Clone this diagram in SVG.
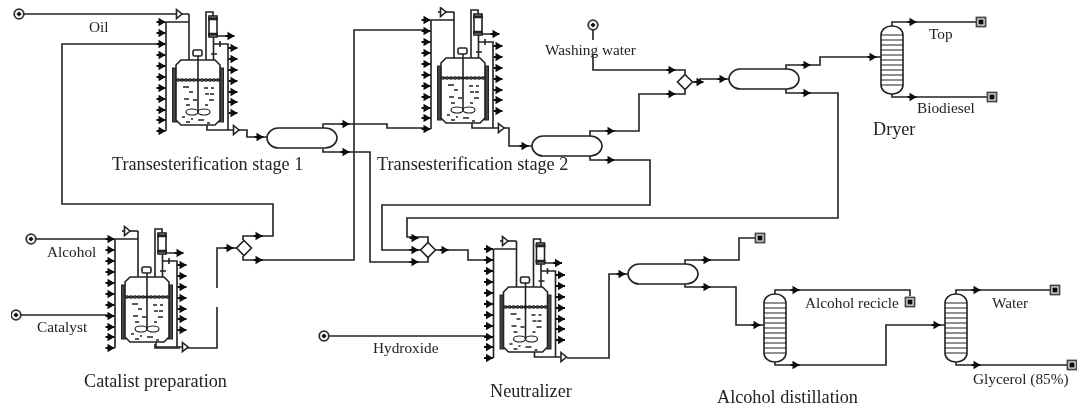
<svg xmlns="http://www.w3.org/2000/svg" width="1077" height="408" viewBox="0 0 1077 408">
<style>
.l{fill:none;stroke:#222;stroke-width:1.6}
.w{fill:#fff;stroke:#222;stroke-width:1.6}
.th{fill:none;stroke:#222;stroke-width:1.2}
.d{fill:none;stroke:#222;stroke-width:1.5}
.k{fill:#111}
text{font-family:"Liberation Serif","Times New Roman",serif;fill:#222;font-size:15.300px}
.t{font-size:18.200px}
</style>
<defs>
<filter id="soft" x="0" y="0" width="100%" height="100%"><feGaussianBlur stdDeviation="0.35"/></filter>
<path id="ar" class="k" d="M-4.500,-1H-2.500V-4.200L3,-1H4.500V1H3L-2.500,4.200V1H-4.500Z"/>
<path id="tri" class="w" d="M-2.500,-4.500L3,0L-2.500,4.500Z"/>
<g id="src"><circle r="4.800" fill="#fff" stroke="#333" stroke-width="1.800"/><path class="k" d="M0,-2.600L2.600,0L0,2.600L-2.600,0Z"/></g>
<g id="snk"><rect x="-4.500" y="-4.500" width="9" height="9" fill="#fff" stroke="#444" stroke-width="1.800"/><rect x="-2.500" y="-2.500" width="5" height="5" class="k"/></g>
<g id="drum"><path class="w" d="M11,0H58C65,0 70,5 70,10C70,15 65,20 58,20H11C5,20 0,15 0,10C0,5 5,0 11,0Z"/></g>
<g id="col"><rect class="w" width="22" height="68" rx="10.500" ry="9"/><path class="th" d="M0,9H22M0,14H22M0,19H22M0,24H22M0,29H22M0,34H22M0,39H22M0,44H22M0,49H22M0,54H22M0,59H22"/></g>
<g id="mix"><path class="w" d="M0,-7.500L7.500,0L0,7.500L-7.500,0Z"/></g>
<g id="rx">
<path class="l" d="M166,22V131M166,22H189M189,14V60M206,60V12H213V17M213.500,36V60M213.500,44H228V130M207,125V130H233M217,36H230M220,41V47M211,54H217"/>
<rect x="172.500" y="68" width="4" height="54" fill="#444" stroke="#222" stroke-width="1"/>
<rect x="219.500" y="68" width="4" height="54" fill="#444" stroke="#222" stroke-width="1"/>
<path class="w" d="M176,65L181,60H215L220,65V120L215,125H181L176,120Z"/>
<rect class="w" x="193" y="50" width="9" height="6" rx="1.500"/>
<path class="l" d="M198,56V112"/>
<path class="th" d="M176,80q2,-2 4,0t4,0t4,0t4,0t4,0t4,0t4,0t4,0t4,0t4,0t4,0M176,80q2,2 4,0t4,0t4,0t4,0t4,0t4,0t4,0t4,0t4,0t4,0t4,0"/>
<path class="d" d="M183,87h6M204,88h4M211,88h3M189,92h4M205,94h4M210,94h4M184,99h5M193,100h4M209,100h5M186,105h4M205,105h3M186,122h4M198,120h6M207,123h3M191,119h2M182,117h3"/>
<ellipse class="th" cx="192" cy="112" rx="6" ry="3"/><ellipse class="th" cx="204" cy="112" rx="6" ry="3"/>
<rect class="w" x="209" y="16" width="8" height="21"/>
<path class="d" d="M208,18H218M208,19.500H218M208,33.500H218M208,35H218"/>
<use href="#ar" x="161" y="22"/><use href="#ar" x="161" y="33"/><use href="#ar" x="161" y="44"/><use href="#ar" x="161" y="55"/><use href="#ar" x="161" y="66"/><use href="#ar" x="161" y="77"/><use href="#ar" x="161" y="88"/><use href="#ar" x="161" y="99"/><use href="#ar" x="161" y="110"/><use href="#ar" x="161" y="120"/><use href="#ar" x="161" y="131"/>
<use href="#ar" x="230" y="36"/>
<use href="#ar" x="233" y="48"/><use href="#ar" x="233" y="59"/><use href="#ar" x="233" y="70"/><use href="#ar" x="233" y="81"/><use href="#ar" x="233" y="92"/><use href="#ar" x="233" y="102"/><use href="#ar" x="233" y="113"/>
<use href="#tri" x="236" y="130"/>
</g>
</defs>
<g filter="url(#soft)">
<g id="connectors">
<path class="l" d="M19,14H178M181,14H189"/>
<path class="l" d="M160,44H62V204H273V236H243V240"/>
<path class="l" d="M243,256V260H354V30H425"/>
<path class="l" d="M217,288V248H236"/>
<path class="l" d="M217,307V348H186M180,348H155V344"/>
<path class="l" d="M31,239H108M16,315H108"/>
<path class="l" d="M239,130H247V137H267"/>
<path class="l" d="M323,128V124H387V128H425"/>
<path class="l" d="M323,149V152H370V262H414L428,262V258"/>
<path class="l" d="M590,156V160H650V205H382V250H420"/>
<path class="l" d="M786,89V93H838V218H407V237H428V242"/>
<path class="l" d="M436,250H468V260H488"/>
<path class="l" d="M504,128H509V146H532"/>
<path class="l" d="M590,136V131H639V94H685V90"/>
<path class="l" d="M593,30V40M593,55V70H685V74"/>
<path class="l" d="M693,82H700V79H729"/>
<path class="l" d="M786,69V65H820V57H881"/>
<path class="l" d="M892,26V22H977M892,93V97H988"/>
<path class="l" d="M324,336H488"/>
<path class="l" d="M567,358H609V274H628"/>
<path class="l" d="M685,264V260H739V238H756"/>
<path class="l" d="M685,284V287H736V325H764"/>
<path class="l" d="M775,294V290H910V296"/>
<path class="l" d="M775,362V365H886V325H945"/>
<path class="l" d="M956,294V290H1051M956,362V365H1068"/>
<use href="#ar" x="258" y="236"/><use href="#ar" x="258" y="260"/><use href="#ar" x="229" y="248"/>
<use href="#ar" x="259" y="137"/><use href="#ar" x="345" y="124"/><use href="#ar" x="345" y="152"/>
<use href="#ar" x="414" y="238"/><use href="#ar" x="414" y="250"/><use href="#ar" x="414" y="262"/>
<use href="#ar" x="444" y="250"/><use href="#ar" x="524" y="146"/>
<use href="#ar" x="610" y="131"/><use href="#ar" x="610" y="160"/>
<use href="#ar" x="671" y="70"/><use href="#ar" x="671" y="94"/><use href="#ar" x="699" y="82"/><use href="#ar" x="722" y="79"/>
<use href="#ar" x="806" y="65"/><use href="#ar" x="806" y="93"/><use href="#ar" x="872" y="57"/>
<use href="#ar" x="912" y="22"/><use href="#ar" x="912" y="97"/>
<use href="#ar" x="621" y="274"/><use href="#ar" x="706" y="260"/><use href="#ar" x="706" y="287"/><use href="#ar" x="756" y="325"/>
<use href="#ar" x="795" y="290"/><use href="#ar" x="795" y="365"/><use href="#ar" x="936" y="325"/>
<use href="#ar" x="976" y="290"/><use href="#ar" x="976" y="365"/>
</g>
<g id="reactor-1"><use href="#rx"/><use href="#tri" x="179" y="14"/></g>
<g id="reactor-2"><use href="#rx" transform="translate(265,-2)"/><path class="l" d="M438,12H454"/><use href="#tri" x="443" y="12"/></g>
<g id="reactor-3"><use href="#rx" transform="translate(-51,217)"/><path class="l" d="M122,231H138"/><use href="#tri" x="127" y="231"/></g>
<g id="reactor-4"><use href="#rx" transform="translate(327.500,227)"/><path class="l" d="M500,241H516.500"/><use href="#tri" x="505" y="241"/></g>
<g id="drum-1"><use href="#drum" x="267" y="128"/></g>
<g id="drum-2"><use href="#drum" x="532" y="136"/></g>
<g id="drum-3"><use href="#drum" x="729" y="69"/></g>
<g id="drum-4"><use href="#drum" x="628" y="264"/></g>
<g id="mixer-1"><use href="#mix" x="244" y="248"/></g>
<g id="mixer-2"><use href="#mix" x="428" y="250"/></g>
<g id="mixer-3"><use href="#mix" x="685" y="82"/></g>
<g id="column-dryer"><use href="#col" x="881" y="26"/></g>
<g id="column-alcohol"><use href="#col" x="764" y="294"/></g>
<g id="column-water"><use href="#col" x="945" y="294"/></g>
<g id="source-oil"><use href="#src" x="19" y="14"/></g>
<g id="source-washing"><use href="#src" x="593" y="25"/></g>
<g id="source-alcohol"><use href="#src" x="31" y="239"/></g>
<g id="source-catalyst"><use href="#src" x="16" y="315"/></g>
<g id="source-hydroxide"><use href="#src" x="324" y="336"/></g>
<g id="sink-top"><use href="#snk" x="981" y="22"/></g>
<g id="sink-biodiesel"><use href="#snk" x="992" y="97"/></g>
<g id="sink-3"><use href="#snk" x="760" y="238"/></g>
<g id="sink-recicle"><use href="#snk" x="910" y="302"/></g>
<g id="sink-water"><use href="#snk" x="1055" y="290"/></g>
<g id="sink-glycerol"><use href="#snk" x="1072" y="365"/></g>
<g id="labels">
<text x="89" y="32">Oil</text>
<text class="t" x="112" y="170">Transesterification stage 1</text>
<text class="t" x="377" y="170">Transesterification stage 2</text>
<text x="545" y="55">Washing water</text>
<text x="929" y="39">Top</text>
<text x="917" y="113">Biodiesel</text>
<text class="t" x="873" y="135">Dryer</text>
<text x="47" y="257">Alcohol</text>
<text x="37" y="332">Catalyst</text>
<text class="t" x="84" y="387">Catalist preparation</text>
<text x="373" y="353">Hydroxide</text>
<text class="t" x="490" y="397">Neutralizer</text>
<text class="t" x="717" y="403">Alcohol distillation</text>
<text x="805" y="308">Alcohol recicle</text>
<text x="992" y="308">Water</text>
<text x="973" y="384">Glycerol (85%)</text>
</g>
</g>
</svg>
